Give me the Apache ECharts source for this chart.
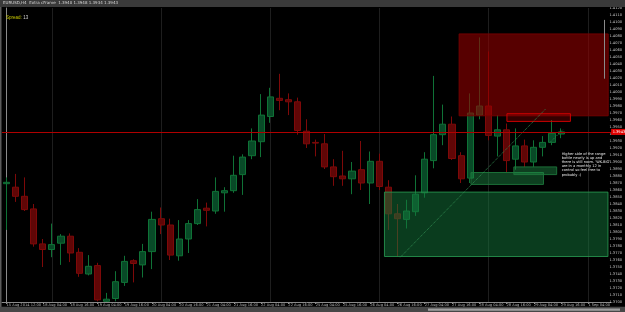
<!DOCTYPE html>
<html><head><meta charset="utf-8">
<script src="https://cdn.jsdelivr.net/npm/echarts@6/dist/echarts.min.js"></script>
<style>html,body{margin:0;padding:0;background:#000;overflow:hidden}#c{width:625px;height:312px}</style>
</head><body><div id="c"></div>
<script>
const categories = [
"15 Aug 2014 12:00","15 Aug 16:00","15 Aug 20:00",
"18 Aug 00:00","18 Aug 04:00","18 Aug 08:00","18 Aug 12:00","18 Aug 16:00","18 Aug 20:00",
"19 Aug 00:00","19 Aug 04:00","19 Aug 08:00","19 Aug 12:00","19 Aug 16:00","19 Aug 20:00",
"20 Aug 00:00","20 Aug 04:00","20 Aug 08:00","20 Aug 12:00","20 Aug 16:00","20 Aug 20:00",
"21 Aug 00:00","21 Aug 04:00","21 Aug 08:00","21 Aug 12:00","21 Aug 16:00","21 Aug 20:00",
"22 Aug 00:00","22 Aug 04:00","22 Aug 08:00","22 Aug 12:00","22 Aug 16:00","22 Aug 20:00",
"25 Aug 00:00","25 Aug 04:00","25 Aug 08:00","25 Aug 12:00","25 Aug 16:00","25 Aug 20:00",
"26 Aug 00:00","26 Aug 04:00","26 Aug 08:00","26 Aug 12:00","26 Aug 16:00","26 Aug 20:00",
"27 Aug 00:00","27 Aug 04:00","27 Aug 08:00","27 Aug 12:00","27 Aug 16:00","27 Aug 20:00",
"28 Aug 00:00","28 Aug 04:00","28 Aug 08:00","28 Aug 12:00","28 Aug 16:00","28 Aug 20:00",
"29 Aug 00:00","29 Aug 04:00","29 Aug 08:00","29 Aug 12:00","29 Aug 16:00","29 Aug 20:00",
"1 Sep 00:00","1 Sep 04:00","1 Sep 08:00","1 Sep 12:00"];

const openP = [1.3869,1.3864,1.3851,1.3833,1.3783,1.3775,1.3784,1.3794,1.3771,1.3740,1.3752,1.3701,1.3705,1.3728,1.3759,1.3753,1.3772,1.3819,1.3810,1.3766,1.3790,1.3812,1.3834,1.3830,1.3856,1.3859,1.3882,1.3909,1.3929,1.3965,1.3991,1.3989,1.3986,1.3944,1.3928,1.3926,1.3893,1.3880,1.3876,1.3889,1.3870,1.3901,1.3864,1.3826,1.3818,1.3829,1.3856,1.3902,1.3939,1.3954,1.3909,1.3877,1.3967,1.3980,1.3937,1.3946,1.3904,1.3923,1.3900,1.3921,1.3928,1.3940];
const closeP = [1.3871,1.3851,1.3832,1.3783,1.3775,1.3782,1.3794,1.3770,1.3741,1.3751,1.3703,1.3704,1.3729,1.3758,1.3755,1.3772,1.3818,1.3810,1.3767,1.3790,1.3812,1.3832,1.3831,1.3858,1.3859,1.3881,1.3907,1.3930,1.3967,1.3993,1.3988,1.3986,1.3945,1.3926,1.3927,1.3893,1.3879,1.3876,1.3887,1.3870,1.3901,1.3865,1.3826,1.3819,1.3830,1.3854,1.3904,1.3939,1.3954,1.3905,1.3876,1.3970,1.3980,1.3938,1.3946,1.3902,1.3923,1.3900,1.3921,1.3928,1.3941,1.3943];
const lowP = [1.3803,1.3843,1.3830,1.3779,1.3750,1.3764,1.3753,1.3757,1.3736,1.3738,1.3701,1.3700,1.3701,1.3723,1.3728,1.3735,1.3747,1.3797,1.3760,1.3759,1.3770,1.3810,1.3808,1.3826,1.3829,1.3856,1.3853,1.3904,1.3907,1.3956,1.3974,1.3967,1.3939,1.3920,1.3908,1.3890,1.3866,1.3866,1.3854,1.3860,1.3840,1.3860,1.3803,1.3765,1.3805,1.3823,1.3849,1.3891,1.3924,1.3903,1.3870,1.3870,1.3961,1.3931,1.3908,1.3885,1.3889,1.3893,1.3893,1.3908,1.3924,1.3934];
const highP = [1.3878,1.3883,1.3878,1.3840,1.3790,1.3812,1.3797,1.3798,1.3777,1.3767,1.3756,1.3713,1.3744,1.3766,1.3761,1.3783,1.3829,1.3835,1.3819,1.3817,1.3817,1.3847,1.3842,1.3878,1.3864,1.3909,1.3911,1.3948,1.3997,1.4006,1.4026,1.3998,1.3992,1.3961,1.3932,1.3940,1.3904,1.3916,1.3900,1.3930,1.3915,1.3912,1.3874,1.3840,1.3846,1.3881,1.3914,1.4023,1.3982,1.3965,1.3914,1.3998,1.4078,1.4058,1.3967,1.3955,1.3948,1.3932,1.3931,1.3937,1.3960,1.3948];

const lastPrice = 1.3943;
const priceMin = 1.3700, priceMax = 1.4120, priceStep = 0.0010;
const gridLineIdx = [5, 17, 29, 41, 53, 64];
// zones: [xFrom, priceTop, xTo, priceBottom] in bar-index units
const supplyZone = [49.78, 1.4083, 66.18, 1.3966];
const supplyBox2 = [55.04, 1.3969, 62.02, 1.3958];
const demandZone = [41.57, 1.3857, 66.15, 1.3765];
const demandBox1 = [51.08, 1.3885, 59.06, 1.3868];
const demandBox2 = [55.80, 1.3893, 60.51, 1.3882];
const trendLine = [[43.32, 1.3764], [59.31, 1.3976]];
const trendLine2 = [[59.86, 1.3929], [61.17, 1.3946]];
const grayMarker = [[65.74, 1.4103], [65.74, 1.4019]];
const notePos = [61.06, 1.3915];
const noteText = "Higher side of the range\nbottle nearly is up and\nthere is still room. 'WK-BIG'\nare in a monthly 12 in\ncontrol so feel free to\nprobably :)";

const candles = openP.map((o, i) => [o, closeP[i], lowP[i], highP[i]]);
const showIdx = i => i === 0 || (i >= 4 && (i - 4) % 3 === 0);

function area(z, fill, border) {
  return [{coord: [z[0], z[1]], itemStyle: {color: fill, borderColor: border, borderWidth: 1}},
          {coord: [z[2], z[3]]}];
}

const chart = echarts.init(document.getElementById('c'), null, {renderer: 'canvas'});
chart.setOption({
  animation: false,
  backgroundColor: '#000',
  grid: {left: 1.94, top: 8, width: 611.7, height: 294},
  xAxis: [{
    type: 'category', data: categories, boundaryGap: true,
    axisLine: {lineStyle: {color: '#8a8a8a', width: 1}},
    axisTick: {show: true, alignWithLabel: true, interval: (i) => showIdx(i), length: 2, lineStyle: {color: '#8a8a8a'}},
    axisLabel: {interval: (i) => showIdx(i), fontSize: 3.6, color: '#b8b8b8', align: 'left', margin: 1, fontFamily: 'DejaVu Sans'},
    splitLine: {show: false}
  }, {
    type: 'value', min: -0.5, max: 66.5, show: false
  }],
  yAxis: [{
    type: 'value', position: 'right', offset: -3.7,
    min: priceMin, max: priceMax, interval: priceStep,
    axisLine: {show: true, lineStyle: {color: '#8a8a8a'}},
    axisTick: {show: false},
    axisLabel: {fontSize: 3.6, color: '#c8c8c8', margin: 2, formatter: v => v.toFixed(4), fontFamily: 'DejaVu Sans'},
    splitLine: {show: false}
  }],
  series: [{
    type: 'line', xAxisIndex: 1, yAxisIndex: 0, data: [], z: 1, silent: true,
    markLine: {
      silent: true, symbol: 'none', z: 1, precision: 4,
      label: {show: false},
      lineStyle: {color: '#1e1e1e', width: 1, type: 'solid'},
      data: gridLineIdx.map(i => ({xAxis: i, lineStyle: {color: '#1e1e1e', width: 1, type: 'solid'}}))
    }
  }, {
    type: 'candlestick', xAxisIndex: 0, yAxisIndex: 0, data: candles, barWidth: 6.6, z: 2,
    itemStyle: {color: '#084a27', color0: '#600606', borderColor: '#0f7236', borderColor0: '#7e0909', borderWidth: 1}
  }, {
    type: 'line', xAxisIndex: 1, yAxisIndex: 0, data: [], z: 4, silent: true,
    markArea: {
      silent: true, z: 4,
      data: [
        area(supplyZone, 'rgba(150,0,0,0.58)', 'rgba(120,0,0,0.9)'),
        area(supplyBox2, 'rgba(150,0,0,0.35)', '#cc0000'),
        area(demandZone, 'rgba(20,120,60,0.5)', 'rgba(40,150,80,0.85)'),
        area(demandBox1, 'rgba(30,140,70,0.45)', 'rgba(30,120,60,0.9)'),
        area(demandBox2, 'rgba(30,140,70,0.45)', 'rgba(30,120,60,0.9)')
      ]
    },
    markLine: {
      silent: true, symbol: 'none', z: 5, precision: 4, label: {show: false},
      data: [
        [{coord: trendLine[0], lineStyle: {color: '#2f8a50', width: 1, type: 'dotted'}}, {coord: trendLine[1]}],
        [{coord: trendLine2[0], lineStyle: {color: '#2f8a50', width: 1, type: 'dotted'}}, {coord: trendLine2[1]}],
        [{coord: grayMarker[0], lineStyle: {color: '#8a8a8a', width: 1, type: 'solid'}}, {coord: grayMarker[1]}],
        {yAxis: lastPrice, lineStyle: {color: '#b00000', width: 1, type: 'solid'},
         label: {show: true, position: 'end', formatter: () => lastPrice.toFixed(4), fontSize: 3.6, color: '#fff',
                 backgroundColor: '#e00000', padding: [1, 1.5], distance: 0, fontFamily: 'DejaVu Sans'}}
      ]
    },
    markPoint: {
      silent: true, symbol: 'circle', symbolSize: 0, z: 6,
      data: [{coord: notePos}],
      label: {show: true, position: [0, 0], formatter: noteText, fontSize: 3.6, lineHeight: 4.2, color: '#e8e8e8', align: 'left', verticalAlign: 'top', fontFamily: 'DejaVu Sans'}
    }
  }],
  graphic: [
    {type: 'rect', shape: {x: 0, y: 0, width: 625, height: 7}, style: {fill: '#3a3a3a'}, z: 10},
    {type: 'text', x: 3, y: 1.2, style: {text: 'EURUSD,H4  Extra cFrame  1.3940 1.3948 1.3934 1.3943', fontSize: 4, fill: '#d8d8d8', fontFamily: 'DejaVu Sans'}, z: 11},
    {type: 'rect', shape: {x: 0, y: 7, width: 1.5, height: 305}, style: {fill: '#5a5a5a'}, z: 10},
    {type: 'text', x: 6, y: 15, style: {text: '{a|Spread:} {b|13}', fontSize: 4.5, fontFamily: 'DejaVu Sans',
       rich: {a: {fill: '#c8c800', fontSize: 4.5}, b: {fill: '#d0d0d0', fontSize: 4.5}}}, z: 11},
    {type: 'rect', shape: {x: 0, y: 306.8, width: 625, height: 5.2}, style: {fill: '#474747'}, z: 10},
    {type: 'rect', shape: {x: 428, y: 308.6, width: 192, height: 2.2}, style: {fill: '#a0a0a0'}, z: 11}
  ]
});
</script></body></html>
